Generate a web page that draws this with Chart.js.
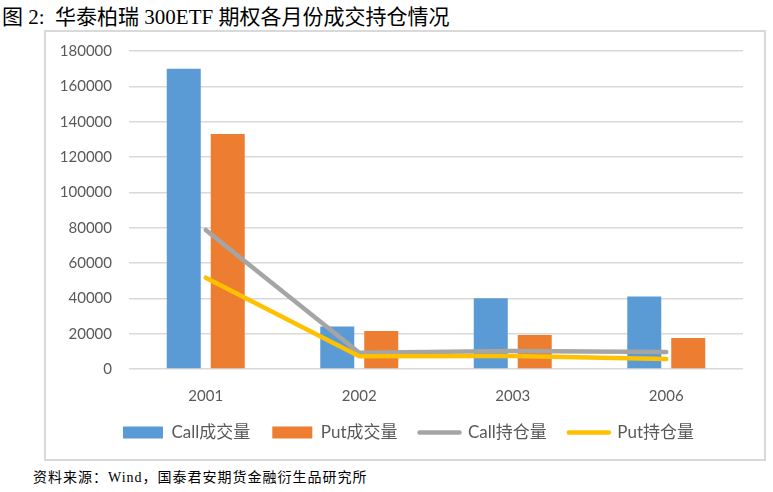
<!DOCTYPE html>
<html lang="zh">
<head>
<meta charset="UTF-8">
<title>华泰柏瑞 300ETF 期权各月份成交持仓情况</title>
<script src="https://cdn.jsdelivr.net/npm/chart.js"></script>
<style>
  body { margin: 0; background: #fff; width: 773px; height: 492px; position: relative; overflow: hidden; }
  #title { position: absolute; left: 2px; top: 0px; font: 21px "Liberation Serif", "Noto Sans CJK SC", serif; color: #000; white-space: nowrap; }
  #frame { position: absolute; left: 44px; top: 30px; width: 718px; height: 427px; border: 2px solid #d9d9d9; }
  #src { position: absolute; left: 33px; top: 466px; font: 14px "Liberation Serif", "Noto Sans CJK SC", serif; color: #000; white-space: nowrap; letter-spacing: 1px; }
</style>
</head>
<body>

<div id="title">图 2:&nbsp; 华泰柏瑞 300ETF 期权各月份成交持仓情况</div>
<div id="frame"><canvas id="chart"></canvas></div>
<div id="src">资料来源：Wind，国泰君安期货金融衍生品研究所</div>

<script>
// 数据
const months = ['2001', '2002', '2003', '2006'];
const callVolume = [170000, 24000, 40000, 41000];
const putVolume = [133000, 21500, 19200, 17500];
const callOI = [78700, 9200, 10200, 9600];
const putOI = [51700, 7200, 7400, 5700];
const yTicks = [0, 20000, 40000, 60000, 80000, 100000, 120000, 140000, 160000, 180000];

const seriesNames = ['Call成交量', 'Put成交量', 'Call持仓量', 'Put持仓量'];
const colors = ['#5b9bd5', '#ed7d31', '#a5a5a5', '#ffc000'];
const fontFamily = 'Lato, "Noto Sans CJK SC", sans-serif';

// 图例整体右移一点, 跟原图对齐
const legendShift = {
    id: 'legendShift',
    afterLayout(chart) {
        chart.legend.left += 14;
        chart.legend.right += 14;
    }
};

const ctx = document.getElementById('chart').getContext('2d');
new Chart(ctx, {
    type: 'bar',
    data: {
        labels: months,
        datasets: [
            { label: seriesNames[0], data: callVolume, backgroundColor: colors[0], order: 3,
              categoryPercentage: 0.573, barPercentage: 0.773 },
            { label: seriesNames[1], data: putVolume, backgroundColor: colors[1], order: 3,
              categoryPercentage: 0.573, barPercentage: 0.773 },
            { type: 'line', label: seriesNames[2], data: callOI, borderColor: colors[2], borderWidth: 4.5,
              pointRadius: 0, borderCapStyle: 'round', borderJoinStyle: 'round', fill: false, order: 1 },
            { type: 'line', label: seriesNames[3], data: putOI, borderColor: colors[3], borderWidth: 4.5,
              pointRadius: 0, borderCapStyle: 'round', borderJoinStyle: 'round', fill: false, order: 0 }
        ]
    },
    options: {
        responsive: true,
        maintainAspectRatio: false,
        animation: false,
        layout: { padding: { top: 19, right: 21, left: 0, bottom: 8 } },
        plugins: {
            tooltip: { enabled: false },
            legend: {
                position: 'bottom',
                labels: {
                    usePointStyle: true,
                    pointStyleWidth: 40,
                    boxHeight: 12,
                    padding: 22,
                    color: '#595959',
                    font: { family: fontFamily, size: 17 },
                    generateLabels: () => seriesNames.map((name, i) => ({
                        text: name,
                        fillStyle: colors[i],
                        strokeStyle: colors[i],
                        lineWidth: i < 2 ? 0 : 4.5,
                        lineCap: 'round',
                        pointStyle: i < 2 ? 'rect' : 'line',
                        fontColor: '#595959',
                        hidden: false,
                        datasetIndex: i
                    }))
                }
            }
        },
        scales: {
            x: {
                grid: { display: false, drawTicks: false },
                border: { display: false },
                afterFit: scale => { scale.height = 33; },
                ticks: { color: '#595959', padding: 18, font: { family: fontFamily, size: 15 } }
            },
            y: {
                min: 0,
                max: 180000,
                afterBuildTicks: scale => { scale.ticks = yTicks.map(v => ({ value: v })); },
                afterFit: scale => {
                    scale.width = 83;
                    scale.paddingTop = 0;
                    scale.paddingBottom = 0;
                },
                grid: { color: '#d9d9d9', lineWidth: 1.5, drawTicks: false },
                border: { display: false },
                ticks: { color: '#595959', padding: 17, font: { family: fontFamily, size: 15 },
                         callback: v => String(v) }
            }
        }
    },
    plugins: [legendShift]
});
</script>
</body>
</html>
